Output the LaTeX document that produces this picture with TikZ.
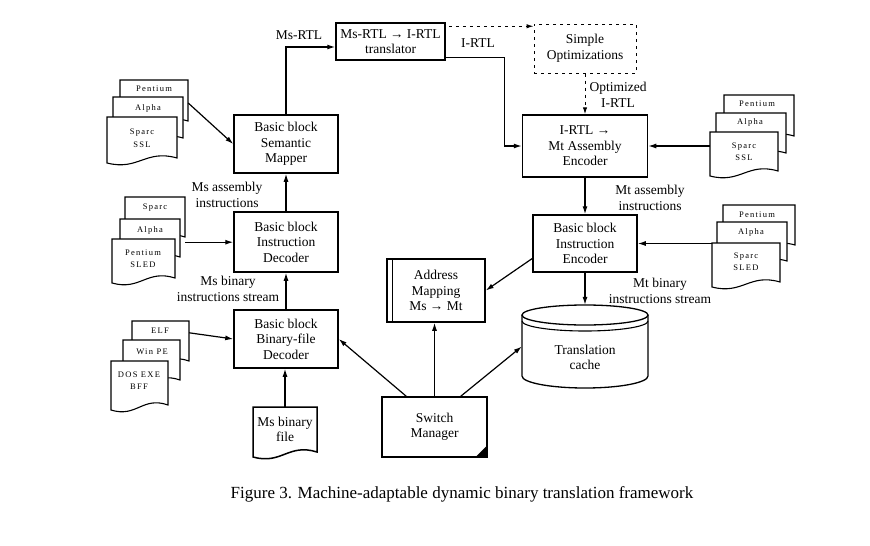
\documentclass[tikz,border=0pt]{standalone}
\usepackage{fontspec}
\setmainfont{Liberation Serif}
\newfontfamily\spacedfont[LetterSpace=15]{Liberation Serif}
\usetikzlibrary{arrows.meta,calc}

\tikzset{
  blk/.style={draw, line width=1.5pt, align=center, inner sep=0pt,
    font=\fontsize{13.5}{15.5}\selectfont},
  lbl/.style={align=center, inner sep=0pt, font=\fontsize{13.5}{15.5}\selectfont},
  conn/.style={line width=1.2pt, -{Latex[length=8pt,width=5pt]}},
  dconn/.style={line width=1pt, dash pattern=on 3pt off 4pt, -{Latex[length=7pt,width=4.5pt]}},
  pagefill/.style={draw, line width=1.1pt, fill=white},
  pagetxt/.style={font=\spacedfont\fontsize{8.5}{12.5}\selectfont, align=center, inner sep=0pt},
}

% #1 extra style, #2 name, #3 x1, #4 y1, #5 x2, #6 y2
\newcommand\docpage[6][]{%
  \path[pagefill,#1] (#3,#4) -- (#5,#4) -- (#5,{#6-5})
    .. controls ({#5-0.45*(#5-#3)},{#6-14}) and ({#3+0.45*(#5-#3)},{#6+8}) .. (#3,#6) -- cycle;
  \node[inner sep=0pt, minimum width={#5-#3}, minimum height={#6-#4}] (#2) at ({(#3+#5)/2},{(#4+#6)/2}) {};
}

\begin{document}
\begin{tikzpicture}[x=1pt,y=-1pt]
\useasboundingbox[fill=white] (0,0) rectangle (870,546);

% ---------- main blocks ----------
\node[blk, minimum width=104, minimum height=58] (mapper) at (286,144) {Basic block\\Semantic\\Mapper};
\node[blk, minimum width=104, minimum height=60] (idec) at (286,242) {Basic block\\Instruction\\Decoder};
\node[blk, minimum width=104, minimum height=58] (bdec) at (286,339) {Basic block\\Binary-file\\Decoder};
\node[blk, minimum width=109, minimum height=37] (trans) at (390.5,41.5) {Ms-RTL → I-RTL\\translator};
\node[draw, line width=1pt, dash pattern=on 3pt off 4pt, align=center, inner sep=0pt,
      font=\fontsize{13.5}{15.5}\selectfont, minimum width=102, minimum height=49] (simple) at (585,48.5) {Simple\\Optimizations};
\node[blk, minimum width=125, minimum height=62] (enc) at (585,146) {I-RTL →\\Mt Assembly\\Encoder};
\node[blk, minimum width=104, minimum height=57] (ienc) at (585,243.5) {Basic block\\Instruction\\Encoder};
\node[blk, minimum width=98, minimum height=63] (addr) at (436,290.5) {Address\\Mapping\\Ms → Mt};
\draw[line width=1.2pt] ($(addr.north west)+(6,0)$) -- ($(addr.south west)+(6,0)$);
\node[blk, minimum width=105, minimum height=60] (sw) at (434.5,427) {Switch\\Manager};
\fill ($(sw.south east)+(-13,0)$) -- (sw.south east) -- ($(sw.south east)+(0,-13)$) -- cycle;

% translation cache (cylinder)
\node[inner sep=0pt, minimum width=126, minimum height=83] (cache) at (585,346.5) {};
\draw[line width=1.3pt] (585,315) ellipse [x radius=63pt, y radius=10pt];
\draw[line width=1.1pt] (522,321) arc [start angle=180, end angle=360, x radius=63pt, y radius=10pt];
\draw[line width=1.3pt] (522,315) -- (522,376) arc [start angle=180, end angle=360, x radius=63pt, y radius=12pt] -- (648,315);
\node[lbl] (cachetxt) at (585,357.5) {Translation\\cache};

% Ms binary file
\docpage[line width=1.5pt]{msfile}{253}{407}{317}{457}
\node[lbl] (msfiletxt) at (285,429.5) {Ms binary\\file};

% ---------- left stacks ----------
\docpage{s1p}{120}{80}{188}{126}
\docpage{s1a}{113}{97}{183}{143}
\docpage{s1s}{107}{117}{177}{163}
\node[pagetxt] (s1pt) at (154,89) {Pentium};
\node[pagetxt] (s1at) at (148,108) {Alpha};
\node[pagetxt] (s1st) at (142,138) {Sparc\\SSL};

\docpage{s2s}{125}{197}{185}{242}
\docpage{s2a}{120}{219}{180}{262}
\docpage{s2p}{112}{239}{175}{283}
\node[pagetxt] (s2st) at (155,208) {Sparc};
\node[pagetxt] (s2at) at (150,230) {Alpha};
\node[pagetxt] (s2pt) at (143,258.5) {Pentium\\SLED};

\docpage{elf}{132}{321}{189}{366}
\docpage{wpe}{123}{340}{180}{385}
\docpage{dos}{111}{361}{168}{410}
\node[pagetxt] (elft) at (160,331) {ELF};
\node[pagetxt] (wpet) at (152,352) {Win PE};
\node[pagetxt] (dost) at (139,380.5) {DOS EXE\\BFF};

% ---------- right stacks ----------
\docpage{r1p}{724}{95}{794}{141}
\docpage{r1a}{716}{113}{786}{158}
\docpage{r1s}{710}{132}{778}{176}
\node[pagetxt] (r1pt) at (757,104) {Pentium};
\node[pagetxt] (r1at) at (750,122.5) {Alpha};
\node[pagetxt] (r1st) at (744,151.5) {Sparc\\SSL};

\docpage{r2p}{723}{205}{795}{250}
\docpage{r2a}{717}{222}{787}{266}
\docpage{r2s}{712}{243}{780}{287}
\node[pagetxt] (r2pt) at (757,214.5) {Pentium};
\node[pagetxt] (r2at) at (751,232.5) {Alpha};
\node[pagetxt] (r2st) at (746,261.5) {Sparc\\SLED};

% ---------- labels ----------
\node[lbl] (lmsrtl) at (299,35) {Ms-RTL};
\node[lbl] (lirtl) at (478,43) {I-RTL};
\node[lbl] (lopt) at (618,95) {Optimized\\I-RTL};
\node[lbl] (lmsasm) at (227,195) {Ms assembly\\instructions};
\node[lbl] (lmsbin) at (228,289) {Ms binary\\instructions stream};
\node[lbl] (lmtasm) at (650,198) {Mt assembly\\instructions};
\node[lbl] (lmtbin) at (660,291) {Mt binary\\instructions stream};
\node[inner sep=0pt, font=\fontsize{17}{20}\selectfont] (caption) at (462,494)
  {Figure 3. Machine-adaptable dynamic binary translation framework};

% ---------- connectors ----------
\draw[conn] (s1p.east) -- (mapper.west);
\draw[conn] (s2s.south east) -- (s2s.south east -| idec.west);
\draw[conn] ($(elf.north east)+(0,12)$) -- (bdec.west);
\draw[conn] (msfile.north) -- (msfile.north |- bdec.south);
\draw[conn] (bdec.north) -- (idec.south);
\draw[conn] (idec.north) -- (mapper.south);
\draw[conn] (mapper.north) |- ($(trans.west)+(0,5.5)$);
\draw[conn] ($(trans.east)+(0,16)$) -- ++(59,0) |- (enc.west);
\coordinate (dstart) at ($(trans.north east)+(3,4)$);
\draw[dconn] (dstart) -- (dstart -| simple.west);
\draw[dconn] (simple.south) -- (enc.north);
\draw[conn] (r1s.west |- enc.east) -- (enc.east);
\draw[conn] (enc.south) -- (ienc.north);
\draw[conn] (r2s.west |- ienc.east) -- (ienc.east);
\draw[conn] ($(ienc.west)+(0,15)$) -- (addr.east);
\draw[conn] (ienc.south) -- (cache.north);
\draw[conn] ($(sw.north west)+(25,0)$) -- (bdec.east);
\draw[conn] (sw.north) -- (sw.north |- addr.south);
\draw[conn] ($(sw.north east)+(-27,0)$) -- (cache.west);
\end{tikzpicture}
\end{document}
